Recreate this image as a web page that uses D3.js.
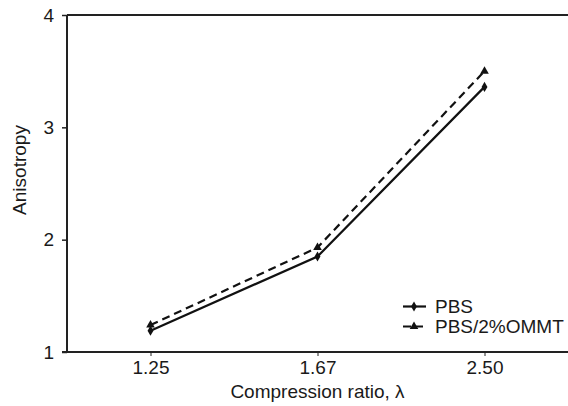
<!DOCTYPE html>
<html>
<head>
<meta charset="utf-8">
<script src="https://cdn.jsdelivr.net/npm/d3@7"></script>
<style>
  html, body { margin: 0; padding: 0; background: #fff; }
  svg { display: block; }
  text { font-family: "Liberation Sans", Arial, Helvetica, sans-serif; fill: #1a1a1a; }
</style>
</head>
<body>
<svg id="chart" width="568" height="406"></svg>
<script>
// Compression ratios (categorical x axis)
const categories = ["1.25", "1.67", "2.50"];
// Anisotropy values for each material
const pbsValues = [1.19, 1.85, 3.36];
const ommtValues = [1.24, 1.93, 3.50];
const seriesNames = ["PBS", "PBS/2%OMMT"];
const yTicks = [1, 2, 3, 4];

const svg = d3.select("#chart");
const margin = { left: 67, right: 0, top: 15, bottom: 54 };
const W = 568, H = 406;

const x = d3.scalePoint().domain(categories).range([margin.left, W - margin.right]).padding(0.5);
const y = d3.scaleLinear().domain([1, 4]).range([H - margin.bottom, margin.top]);

const axisColor = "#222";
const fontSize = 19;

// Frame: top border line
svg.append("line")
  .attr("x1", margin.left).attr("x2", W)
  .attr("y1", y(4)).attr("y2", y(4))
  .attr("stroke", axisColor).attr("stroke-width", 2);

// Y axis
const yAxis = svg.append("g")
  .attr("transform", `translate(${margin.left},0)`)
  .call(d3.axisLeft(y).tickValues(yTicks).tickFormat(d3.format("d")).tickSize(5).tickPadding(8));
yAxis.select(".domain").attr("stroke", axisColor).attr("stroke-width", 2)
  .attr("d", `M0,${y(1)}V${y(4)}`);
yAxis.selectAll(".tick line").attr("stroke", axisColor).attr("stroke-width", 1.5);
yAxis.selectAll(".tick text").attr("font-size", fontSize).attr("fill", "#1a1a1a")
  .attr("font-family", "Liberation Sans, Arial, sans-serif");

// X axis
const xAxis = svg.append("g")
  .attr("transform", `translate(0,${y(1)})`)
  .call(d3.axisBottom(x).tickSize(4).tickPadding(5));
xAxis.select(".domain").attr("stroke", axisColor).attr("stroke-width", 2)
  .attr("d", `M${margin.left - 5},0H${W}`);
xAxis.selectAll(".tick line").attr("stroke", axisColor).attr("stroke-width", 1);
xAxis.selectAll(".tick text").attr("font-size", fontSize).attr("fill", "#1a1a1a")
  .attr("font-family", "Liberation Sans, Arial, sans-serif");

// Axis titles
svg.append("text")
  .attr("x", x("1.67")).attr("y", 398)
  .attr("text-anchor", "middle").attr("font-size", fontSize)
  .text("Compression ratio, λ");
svg.append("text")
  .attr("transform", `translate(26,170) rotate(-90)`)
  .attr("text-anchor", "middle").attr("font-size", fontSize)
  .text("Anisotropy");

// Series
const line = d3.line().x(d => x(d.c)).y(d => y(d.v));
const pbs = categories.map((c, i) => ({ c, v: pbsValues[i] }));
const ommt = categories.map((c, i) => ({ c, v: ommtValues[i] }));

svg.append("path").datum(ommt).attr("d", line)
  .attr("fill", "none").attr("stroke", "#111").attr("stroke-width", 2.2)
  .attr("stroke-dasharray", "8,5");
svg.append("path").datum(pbs).attr("d", line)
  .attr("fill", "none").attr("stroke", "#111").attr("stroke-width", 2.2);

const diamond = d3.symbol().type(d3.symbolDiamond).size(30);
const triangle = d3.symbol().type(d3.symbolTriangle).size(32);

svg.selectAll(".m-ommt").data(ommt).join("path")
  .attr("class", "m-ommt")
  .attr("transform", d => `translate(${x(d.c)},${y(d.v)})`)
  .attr("d", triangle).attr("fill", "#111");
svg.selectAll(".m-pbs").data(pbs).join("path")
  .attr("class", "m-pbs")
  .attr("transform", d => `translate(${x(d.c)},${y(d.v)})`)
  .attr("d", diamond).attr("fill", "#111");

// Legend
const legend = svg.append("g");
const legendItems = [
  { name: seriesNames[0], dash: null, sym: diamond, yy: 306.5 },
  { name: seriesNames[1], dash: "8,4", sym: triangle, yy: 326.5 }
];
legendItems.forEach(it => {
  legend.append("line")
    .attr("x1", 403).attr("x2", 426).attr("y1", it.yy).attr("y2", it.yy)
    .attr("stroke", "#111").attr("stroke-width", 2.2)
    .attr("stroke-dasharray", it.dash);
  legend.append("path")
    .attr("transform", `translate(414,${it.yy})`)
    .attr("d", it.sym).attr("fill", "#111");
  legend.append("text")
    .attr("x", 435).attr("y", it.yy + 6.5)
    .attr("font-size", fontSize)
    .text(it.name);
});
</script>
</body>
</html>
